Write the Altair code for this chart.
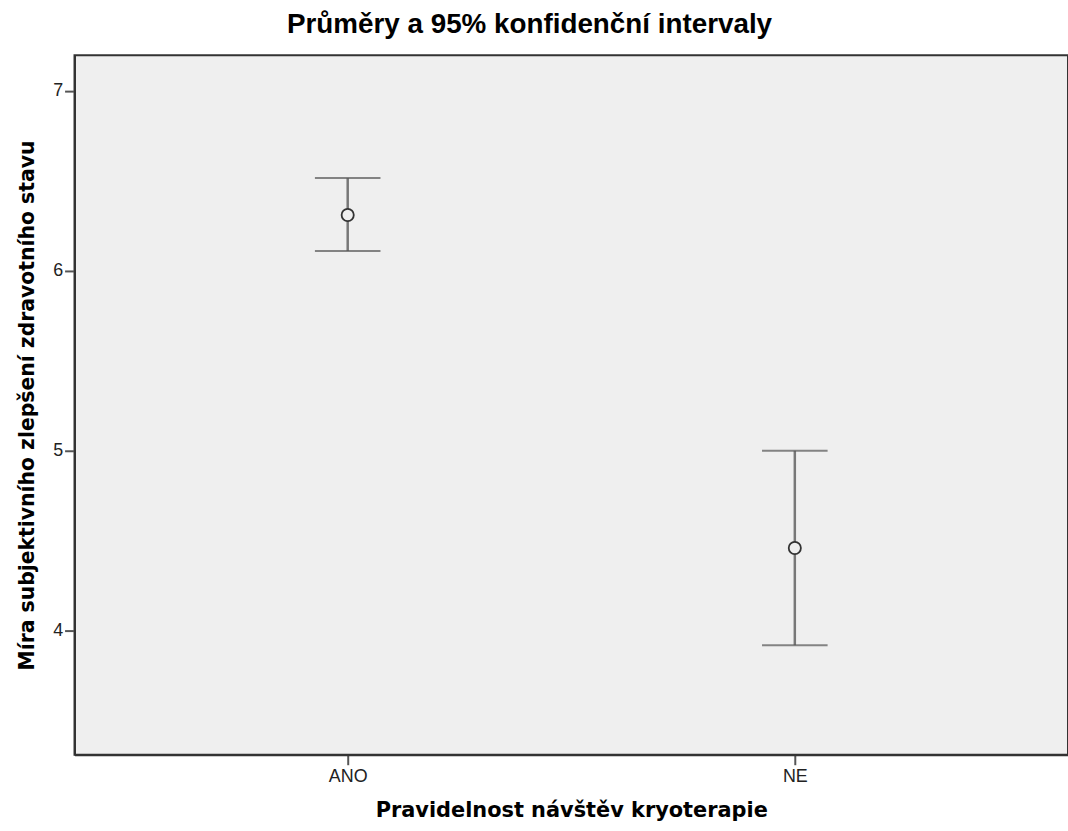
import altair as alt
import pandas as pd

categories = ["ANO", "NE"]
means = [6.31, 4.46]
lowers = [6.11, 3.92]
uppers = [6.515, 5.00]

df = pd.DataFrame({"cat": categories, "mean": means, "lower": lowers, "upper": uppers})

FONT = "Liberation Sans"
TFONT = "DejaVu Sans"
BG = "#efefef"

x_enc = alt.X(
    "cat:N",
    scale=alt.Scale(type="point", padding=0.611, domain=categories),
    axis=alt.Axis(
        title="Pravidelnost návštěv kryoterapie",
        titleFontSize=21, titleFontWeight="bold", titleFont=TFONT, titleColor="#000",
        titleX=500, titleY=62, titleBaseline="alphabetic", titleAlign="center",
        labelFontSize=18, labelFont=FONT, labelColor="#222", labelAngle=0,
        tickSize=10, tickColor="#555", tickWidth=2,
        domainColor="#333", domainWidth=2, labelPadding=3,
    ),
)

y_scale = alt.Scale(domain=[3.311, 7.197], nice=False, zero=False)
y_axis = alt.Axis(
    title="Míra subjektivního zlepšení zdravotního stavu",
    titleFontSize=20.5, titleFontWeight="bold", titleFont=TFONT, titleColor="#000",
    titleX=-41, titleY=352, titleAngle=-90, titleBaseline="alphabetic", titleAlign="center",
    values=[4, 5, 6, 7], format="d", labelFontSize=18, labelFont=FONT, labelColor="#222",
    tickSize=10, tickColor="#555", tickWidth=2, grid=False,
    domainColor="#333", domainWidth=2, labelPadding=2,
)

base = alt.Chart(df)

rule = base.mark_rule(color="#777777", strokeWidth=2.5).encode(
    x=x_enc,
    y=alt.Y("lower:Q", scale=y_scale, axis=y_axis),
    y2="upper:Q",
)
cap_hi = base.mark_tick(color="#555555", thickness=2, size=66, orient="horizontal").encode(
    x=alt.X("cat:N"), y=alt.Y("upper:Q")
)
cap_lo = base.mark_tick(color="#555555", thickness=2, size=66, orient="horizontal").encode(
    x=alt.X("cat:N"), y=alt.Y("lower:Q")
)
pts = base.mark_point(shape="circle", size=150, filled=True, fill=BG, stroke="#333333",
                      strokeWidth=1.8, opacity=1).encode(
    x=alt.X("cat:N"), y=alt.Y("mean:Q")
)

chart = alt.layer(rule, cap_hi, cap_lo, pts).properties(
    width=1000, height=704,
    background="white",
    title=alt.TitleParams(
        "Průměry a 95% konfidenční intervaly", fontSize=28, fontWeight="bold", font=FONT,
        color="#000", anchor="middle", offset=17, dx=-42,
    ),
    autosize=alt.AutoSizeParams(type="none"),
    padding={"left": 75, "top": 53, "right": 0, "bottom": 74},
).configure_view(fill=BG, stroke="#333", strokeWidth=2)

chart.save("out.html", embed_options={"renderer": "svg", "actions": False})
